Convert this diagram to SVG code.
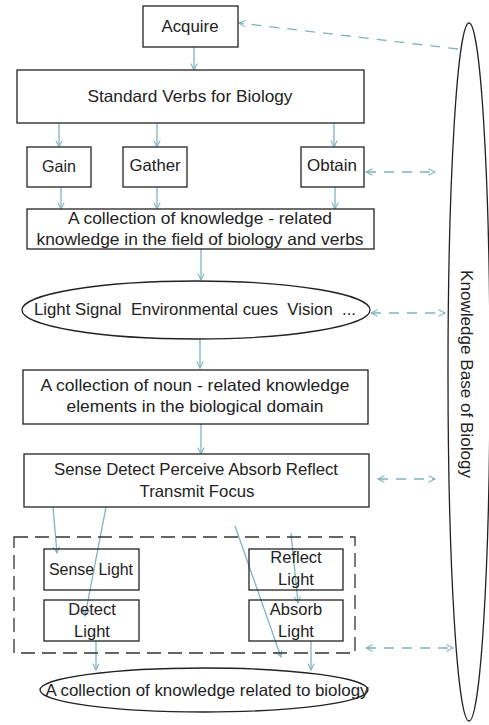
<svg xmlns="http://www.w3.org/2000/svg" width="489" height="725" viewBox="0 0 489 725">
<style>
.box{fill:#fff;stroke:#222;stroke-width:1.3}
.t{font-family:"Liberation Sans",Arial,sans-serif;font-size:16.5px;fill:#222;text-anchor:middle}
.c{stroke:#7fb3bd;stroke-width:1.3;fill:none}
.d{stroke:#7fb3bd;stroke-width:1.3;fill:none;stroke-dasharray:10 8}
</style>
<defs>
<marker id="ah" viewBox="0 0 10 10" refX="9" refY="5" markerWidth="8" markerHeight="8" orient="auto-start-reverse" markerUnits="userSpaceOnUse">
<path d="M1,1 L9,5 L1,9" fill="none" stroke="#7fb3bd" stroke-width="1.3"/>
</marker>
</defs>
<rect width="489" height="725" fill="#fff"/>
<g id="connectors">
<line class="c" x1="194" y1="47" x2="194" y2="70" marker-end="url(#ah)"/>
<line class="c" x1="59" y1="123" x2="59" y2="147" marker-end="url(#ah)"/>
<line class="c" x1="157" y1="123" x2="157" y2="147" marker-end="url(#ah)"/>
<line class="c" x1="334" y1="123" x2="334" y2="147" marker-end="url(#ah)"/>
<line class="c" x1="61" y1="187" x2="61" y2="209" marker-end="url(#ah)"/>
<line class="c" x1="157" y1="187" x2="157" y2="209" marker-end="url(#ah)"/>
<line class="c" x1="335" y1="187" x2="335" y2="209" marker-end="url(#ah)"/>
<line class="c" x1="201" y1="249" x2="201" y2="280" marker-end="url(#ah)"/>
<line class="c" x1="200" y1="339" x2="200" y2="368" marker-end="url(#ah)"/>
<line class="c" x1="201" y1="424" x2="201" y2="454" marker-end="url(#ah)"/>
<line class="c" x1="53" y1="507" x2="57" y2="553" marker-end="url(#ah)"/>
<line class="c" x1="106" y1="507" x2="85" y2="616" marker-end="url(#ah)"/>
<line class="c" x1="235" y1="526" x2="281" y2="657" marker-end="url(#ah)"/>
<line class="c" x1="291" y1="533" x2="298" y2="603" marker-end="url(#ah)"/>
<line class="c" x1="96" y1="641" x2="96" y2="670" marker-end="url(#ah)"/>
<line class="c" x1="311" y1="641" x2="311" y2="670" marker-end="url(#ah)"/>
<line class="d" x1="458" y1="49" x2="239" y2="23" marker-end="url(#ah)"/>
<line class="d" x1="366" y1="172" x2="435" y2="172" marker-start="url(#ah)" marker-end="url(#ah)"/>
<line class="d" x1="371" y1="313" x2="445" y2="313" marker-start="url(#ah)" marker-end="url(#ah)"/>
<line class="d" x1="378" y1="479" x2="435" y2="479" marker-start="url(#ah)" marker-end="url(#ah)"/>
<line class="d" x1="366" y1="648" x2="453" y2="648" marker-start="url(#ah)" marker-end="url(#ah)"/>
</g>
<g id="kb">
<ellipse cx="469" cy="372" rx="21" ry="349" fill="none" stroke="#222" stroke-width="1.3"/>
<text class="t" transform="translate(461,374) rotate(90)" textLength="208" lengthAdjust="spacingAndGlyphs">Knowledge Base of Biology</text>
</g>
<g id="acquire">
<rect class="box" x="143" y="6" width="95" height="41"/>
<text class="t" x="190" y="32" textLength="57" lengthAdjust="spacingAndGlyphs">Acquire</text>
</g>
<g id="standard">
<rect class="box" x="17" y="70" width="347" height="53"/>
<text class="t" x="190" y="102" textLength="205" lengthAdjust="spacingAndGlyphs">Standard Verbs for Biology</text>
</g>
<g id="gain">
<rect class="box" x="27" y="147" width="64" height="40"/>
<text class="t" x="59" y="172" textLength="34" lengthAdjust="spacingAndGlyphs">Gain</text>
</g>
<g id="gather">
<rect class="box" x="123" y="147" width="64" height="40"/>
<text class="t" x="155" y="171" textLength="51" lengthAdjust="spacingAndGlyphs">Gather</text>
</g>
<g id="obtain">
<rect class="box" x="301" y="147" width="63" height="40"/>
<text class="t" x="332" y="171" textLength="50" lengthAdjust="spacingAndGlyphs">Obtain</text>
</g>
<g id="verb-collection">
<rect class="box" x="27" y="209" width="347" height="40"/>
<text class="t" x="200" y="224" textLength="264" lengthAdjust="spacingAndGlyphs">A collection of knowledge - related</text>
<text class="t" x="200" y="245" textLength="327" lengthAdjust="spacingAndGlyphs">knowledge in the field of biology and verbs</text>
</g>
<g id="light-signal">
<ellipse cx="196" cy="310" rx="174" ry="29" fill="#fff" stroke="#222" stroke-width="1.3"/>
<text class="t" x="195" y="315" textLength="322" lengthAdjust="spacingAndGlyphs" xml:space="preserve">Light Signal  Environmental cues  Vision  ...</text>
</g>
<g id="noun-collection">
<rect class="box" x="23" y="370" width="345" height="54"/>
<text class="t" x="195" y="391" textLength="309" lengthAdjust="spacingAndGlyphs">A collection of noun - related knowledge</text>
<text class="t" x="195" y="412" textLength="257" lengthAdjust="spacingAndGlyphs">elements in the biological domain</text>
</g>
<g id="verbs-list">
<rect class="box" x="24" y="454" width="345" height="53"/>
<text class="t" x="196" y="475" textLength="284" lengthAdjust="spacingAndGlyphs">Sense Detect Perceive Absorb Reflect</text>
<text class="t" x="197" y="497" textLength="115" lengthAdjust="spacingAndGlyphs">Transmit Focus</text>
</g>
<g id="group-box">
<rect x="14" y="537" width="341" height="116" fill="none" stroke="#333" stroke-width="1.3" stroke-dasharray="14 7"/>
</g>
<g id="sense-light">
<rect class="box" x="44" y="549" width="95" height="41" style="fill:none"/>
<text class="t" x="91" y="575" textLength="84" lengthAdjust="spacingAndGlyphs">Sense Light</text>
</g>
<g id="detect-light">
<rect class="box" x="44" y="600" width="95" height="41" style="fill:none"/>
<text class="t" x="92" y="615">Detect</text>
<text class="t" x="92" y="637">Light</text>
</g>
<g id="reflect-light">
<rect class="box" x="249" y="549" width="94" height="41" style="fill:none"/>
<text class="t" x="296" y="563">Reflect</text>
<text class="t" x="296" y="585">Light</text>
</g>
<g id="absorb-light">
<rect class="box" x="249" y="600" width="94" height="41" style="fill:none"/>
<text class="t" x="296" y="615">Absorb</text>
<text class="t" x="296" y="637">Light</text>
</g>
<g id="biology-collection">
<ellipse cx="204" cy="690" rx="164" ry="22" fill="none" stroke="#222" stroke-width="1.3"/>
<text class="t" x="207" y="696" textLength="323" lengthAdjust="spacingAndGlyphs">A collection of knowledge related to biology</text>
</g>
</svg>
